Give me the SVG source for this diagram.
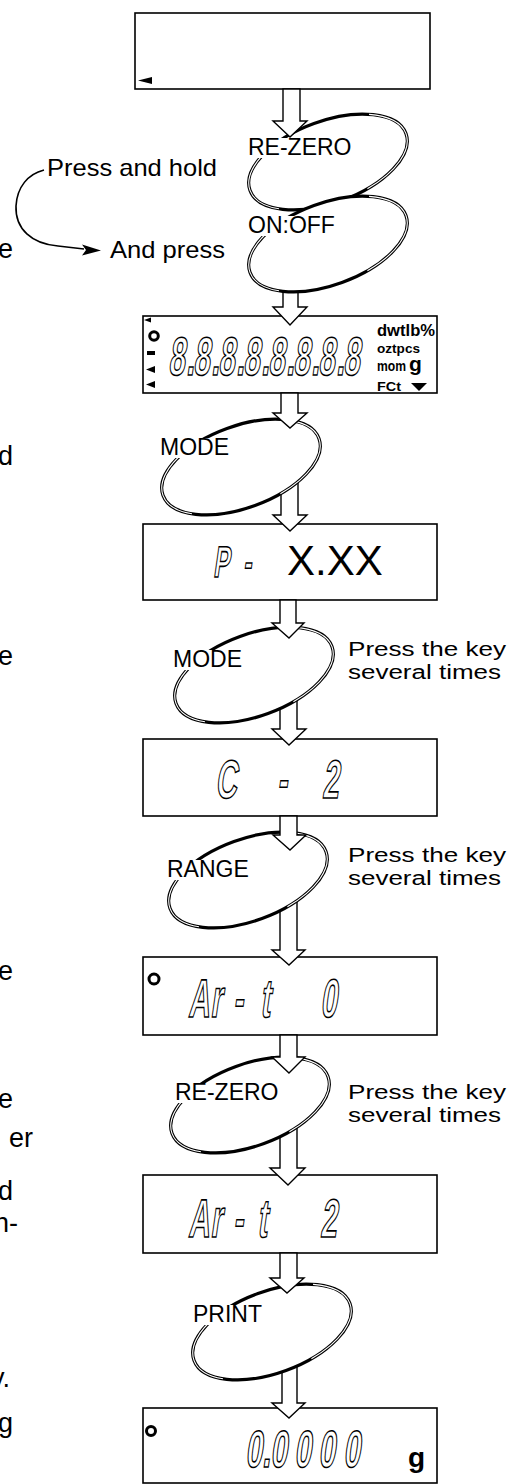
<svg xmlns="http://www.w3.org/2000/svg" width="512" height="1484" viewBox="0 0 512 1484">
<style>
.box{fill:#fff;stroke:#000;stroke-width:1.6}
.arr{fill:#fff;stroke:#000;stroke-width:1.4;stroke-linejoin:miter}
.key{fill:#fff;stroke:#000;stroke-width:3.2}
.keyin{fill:none;stroke:#fff;stroke-width:1.1;stroke-dasharray:18 23 22 26 11 0}
.mask{fill:#fff;stroke:none}
.lbl{font-family:"Liberation Sans",Arial,sans-serif;font-size:23px;fill:#000}
.txt{font-family:"Liberation Sans",Arial,sans-serif;font-size:24px;fill:#000}
.note{font-family:"Liberation Sans",Arial,sans-serif;font-size:20px;fill:#000}
.side{font-family:"Liberation Sans",Arial,sans-serif;font-size:27px;fill:#000;text-anchor:end}
.seg{font-family:"Liberation Sans",Arial,sans-serif;font-weight:bold;fill:#fff;stroke:#000;stroke-width:1.6}
.unit{font-family:"Liberation Sans",Arial,sans-serif;font-weight:bold;fill:#000}
.big{font-family:"Liberation Sans",Arial,sans-serif;font-size:42px;fill:#000}
</style>

<!-- left body text fragments -->
<g id="side-text">
<text class="side" x="13" y="258">e</text>
<text class="side" x="13" y="465">d</text>
<text class="side" x="13" y="665">e</text>
<text class="side" x="13" y="980">e</text>
<text class="side" x="13" y="1108">e</text>
<text class="side" x="33" y="1147">er</text>
<text class="side" x="13" y="1200">d</text>
<text class="side" x="18" y="1232">n-</text>
<text class="side" x="10" y="1387">y.</text>
<text class="side" x="13" y="1432">g</text>
</g>

<!-- displays -->
<g id="display1">
<rect class="box" x="135" y="13" width="295" height="76"/>
<polygon points="138,80.5 152,77 152,84" fill="#000"/>
</g>

<g id="display2">
<rect class="box" x="143" y="316" width="294" height="77"/>
<polygon points="144,320 151,317.5 151,322.5" fill="#000"/>
<circle cx="154" cy="336" r="4.3" fill="#fff" stroke="#000" stroke-width="3"/>
<rect x="147" y="351" width="8" height="4" fill="#000"/>
<polygon points="146,369.5 155,366 155,373" fill="#000"/>
<polygon points="146,384.5 155,381 155,388" fill="#000"/>
<text class="seg" font-size="54" transform="translate(0,375) skewX(-8) scale(0.55,1)" x="305.5 338.2 350.9 383.6 396.4 429.1 441.8 474.5 487.3 520 532.7 565.5 578.2 610.9 623.6" y="0">8.8.8.8.8.8.8.8</text>
<text class="unit" x="377" y="336" font-size="17" textLength="58" lengthAdjust="spacingAndGlyphs">dwtlb%</text>
<text class="unit" x="377" y="353" font-size="13" textLength="43" lengthAdjust="spacingAndGlyphs">oztpcs</text>
<text class="unit" x="377" y="371" font-size="14" textLength="29" lengthAdjust="spacingAndGlyphs">mom</text>
<text class="unit" x="409" y="371" font-size="21">g</text>
<text class="unit" x="377" y="391" font-size="13" textLength="24" lengthAdjust="spacingAndGlyphs">FCt</text>
<polygon points="411,383 427,383 419,391" fill="#000"/>
</g>

<g id="display-p">
<rect class="box" x="143" y="524" width="294" height="76"/>
<text class="seg" font-size="44" transform="translate(0,577) skewX(-8) scale(0.55,1)" x="387.3 441.8" y="0">P-</text>
<text class="big" x="287" y="575">X.XX</text>
</g>

<g id="display-c2">
<rect class="box" x="143" y="739" width="294" height="77"/>
<text class="seg" font-size="54" transform="translate(0,798) skewX(-8) scale(0.55,1)" x="390.9 503.6 585.5" y="0">C-2</text>
</g>

<g id="display-art0">
<rect class="box" x="143" y="957" width="294" height="78"/>
<circle cx="154" cy="979" r="5" fill="#fff" stroke="#000" stroke-width="3"/>
<text class="seg" font-size="54" transform="translate(0,1017) skewX(-8) scale(0.55,1)" x="341.8 381.8 423.6 472.7 581.8" y="0">Ar-t0</text>
</g>

<g id="display-art2">
<rect class="box" x="143" y="1175" width="294" height="78"/>
<text class="seg" font-size="54" transform="translate(0,1237) skewX(-8) scale(0.55,1)" x="341.8 381.8 423.6 467.3 581.8" y="0">Ar-t2</text>
</g>

<g id="display-final">
<rect class="box" x="143" y="1408" width="294" height="75"/>
<circle cx="151" cy="1431" r="4.5" fill="#fff" stroke="#000" stroke-width="3"/>
<text class="seg" font-size="52" transform="translate(0,1467) skewX(-8) scale(0.58,1)" x="422.4 451.7 465.5 506.9 548.3 591.4" y="0">0.0000</text>
<text class="unit" x="408" y="1467" font-size="28">g</text>
</g>

<!-- connectors that leave a key (drawn under the key) -->
<g id="connectors-under">
<polygon class="arr" points="283,270 298,270 298,307 307,307 290,325 273,307 283,307"/>
<polygon class="arr" points="281,480 298,480 298,515 307,515 290,531 273,515 281,515"/>
<polygon class="arr" points="280,690 297,690 297,729 306,729 289,745 272,729 280,729"/>
<polygon class="arr" points="280,900 297,900 297,950 305,950 289,965 272,950 280,950"/>
<polygon class="arr" points="280,1120 297,1120 297,1168 305,1168 288,1185 270,1168 280,1168"/>
<polygon class="arr" points="282,1350 297,1350 297,1403 305,1403 289,1418 272,1403 282,1403"/>
</g>

<!-- keys -->
<g id="key-rezero1">
<ellipse class="key" cx="328" cy="162" rx="83" ry="41" transform="rotate(-20 328 162)"/>
<ellipse class="keyin" cx="328" cy="162" rx="83" ry="41" pathLength="100" transform="rotate(-20 328 162)"/>
<rect class="mask" x="246" y="138" width="108" height="20"/>
<text class="lbl" x="248" y="155">RE-ZERO</text>
</g>
<g id="key-onoff">
<ellipse class="key" cx="328" cy="244" rx="83" ry="41" transform="rotate(-20 328 244)"/>
<ellipse class="keyin" cx="328" cy="244" rx="83" ry="41" pathLength="100" transform="rotate(-20 328 244)"/>
<rect class="mask" x="246" y="216" width="92" height="20"/>
<text class="lbl" x="248" y="233">ON:OFF</text>
</g>
<g id="key-mode1">
<ellipse class="key" cx="241" cy="467" rx="83" ry="41" transform="rotate(-20 241 467)"/>
<ellipse class="keyin" cx="241" cy="467" rx="83" ry="41" pathLength="100" transform="rotate(-20 241 467)"/>
<rect class="mask" x="158" y="438" width="74" height="20"/>
<text class="lbl" x="160" y="455">MODE</text>
</g>
<g id="key-mode2">
<ellipse class="key" cx="254" cy="675" rx="83" ry="41" transform="rotate(-20 254 675)"/>
<ellipse class="keyin" cx="254" cy="675" rx="83" ry="41" pathLength="100" transform="rotate(-20 254 675)"/>
<rect class="mask" x="171" y="650" width="74" height="20"/>
<text class="lbl" x="173" y="667">MODE</text>
</g>
<g id="key-range">
<ellipse class="key" cx="248" cy="880" rx="83" ry="41" transform="rotate(-20 248 880)"/>
<ellipse class="keyin" cx="248" cy="880" rx="83" ry="41" pathLength="100" transform="rotate(-20 248 880)"/>
<rect class="mask" x="165" y="860" width="87" height="20"/>
<text class="lbl" x="167" y="877">RANGE</text>
</g>
<g id="key-rezero2">
<ellipse class="key" cx="250" cy="1105" rx="83" ry="41" transform="rotate(-20 250 1105)"/>
<ellipse class="keyin" cx="250" cy="1105" rx="83" ry="41" pathLength="100" transform="rotate(-20 250 1105)"/>
<rect class="mask" x="173" y="1083" width="108" height="20"/>
<text class="lbl" x="175" y="1100">RE-ZERO</text>
</g>
<g id="key-print">
<ellipse class="key" cx="272" cy="1332" rx="83" ry="41" transform="rotate(-20 272 1332)"/>
<ellipse class="keyin" cx="272" cy="1332" rx="83" ry="41" pathLength="100" transform="rotate(-20 272 1332)"/>
<rect class="mask" x="191" y="1305" width="74" height="20"/>
<text class="lbl" x="193" y="1322">PRINT</text>
</g>

<!-- connectors that enter a key (drawn over the key) -->
<g id="connectors-over">
<polygon class="arr" points="283,89 300,89 300,121 307,121 290,137 273,121 283,121"/>
<polygon class="arr" points="281,393 298,393 298,413 307,413 290,428 273,413 281,413"/>
<polygon class="arr" points="280,600 296,600 296,623 304,623 289,638 272,623 280,623"/>
<polygon class="arr" points="280,816 297,816 297,835 306,835 290,850 273,835 280,835"/>
<polygon class="arr" points="280,1035 297,1035 297,1057 305,1057 289,1073 272,1057 280,1057"/>
<polygon class="arr" points="280,1253 297,1253 297,1278 304,1278 287,1293 270,1278 280,1278"/>
</g>

<!-- press and hold annotation -->
<g id="hold-note">
<text class="txt" x="47" y="176" textLength="170" lengthAdjust="spacingAndGlyphs">Press and hold</text>
<path d="M44,170 C28,174 17,187 16,206 C15,229 32,244 58,246 L84,249" fill="none" stroke="#000" stroke-width="1.6"/>
<polygon points="101,250.5 82,244.5 86,250 82,255.5" fill="#000"/>
<text class="txt" x="110" y="258" textLength="115" lengthAdjust="spacingAndGlyphs">And press</text>
</g>

<g id="notes">
<text class="note" x="348" y="656" textLength="158" lengthAdjust="spacingAndGlyphs">Press the key</text>
<text class="note" x="348" y="679" textLength="153" lengthAdjust="spacingAndGlyphs">several times</text>
<text class="note" x="348" y="862" textLength="158" lengthAdjust="spacingAndGlyphs">Press the key</text>
<text class="note" x="348" y="885" textLength="153" lengthAdjust="spacingAndGlyphs">several times</text>
<text class="note" x="348" y="1099" textLength="158" lengthAdjust="spacingAndGlyphs">Press the key</text>
<text class="note" x="348" y="1122" textLength="153" lengthAdjust="spacingAndGlyphs">several times</text>
</g>
</svg>
